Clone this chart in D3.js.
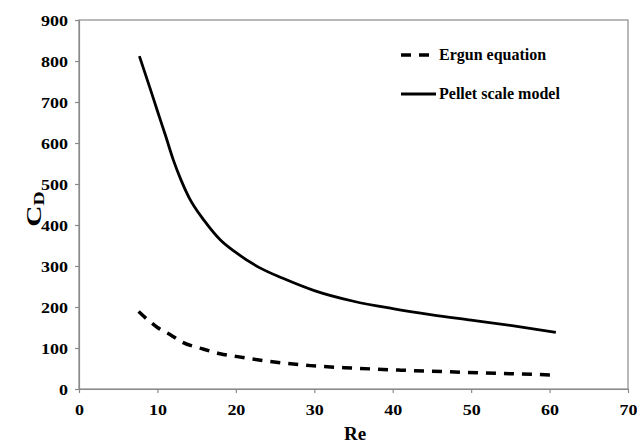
<!DOCTYPE html>
<html><head><meta charset="utf-8">
<script src="https://cdn.jsdelivr.net/npm/d3@7"></script>
<style>body{margin:0;background:#fff}svg{display:block}</style>
</head><body><svg id="c" width="637" height="445"></svg>
<script>
const xTicks = [0,10,20,30,40,50,60,70];
const yTicks = [0,100,200,300,400,500,600,700,800,900];
const seriesNames = ["Ergun equation","Pellet scale model"];
const ergunRe = [7.6,9,10,11.7,13,15.9,18,20.2,24.4,29.5,35,41,47,53.7,60.8];
const ergunCD = [189,165,150,132,116,97,86,79,67,57,51,46,42,38,34];
const pelletRe = [7.7,9,10,11,12,13,14,16,18,20,23,26,30,35,40,45,50,55,60.8];
const pelletCD = [812,737,678,620,560,510,468,410,364,333,296,270,240,214,196,181,168,155,138];

const FONT = "Liberation Serif";
const svg = d3.select("#c");
const L=79,R=628,T=20,B=389;
const x = d3.scaleLinear().domain([0,70]).range([L,R]);
const y = d3.scaleLinear().domain([0,900]).range([B,T]);
const axisCol="#8a8a8a";
const SX = 1.2;

svg.append("rect").attr("x",L).attr("y",T).attr("width",R-L).attr("height",B-T)
  .attr("fill","none").attr("stroke",axisCol).attr("stroke-width",1.2);

const xa = svg.append("g").attr("transform",`translate(0,${B})`)
  .call(d3.axisBottom(x).tickValues(xTicks).tickSize(4).tickSizeOuter(0).tickFormat(d3.format("d")));
const ya = svg.append("g").attr("transform",`translate(${L},0)`)
  .call(d3.axisLeft(y).tickValues(yTicks).tickSize(4).tickSizeOuter(0).tickFormat(d3.format("d")));
[xa,ya].forEach(g=>{
  g.attr("font-family",FONT).attr("font-weight","bold");
  g.selectAll("path").attr("stroke",axisCol).attr("stroke-width",1.2);
  g.selectAll("line").attr("stroke",axisCol).attr("stroke-width",1.2);
  g.selectAll("text").attr("font-size",15).style("font-family",FONT).style("font-weight","bold").attr("fill","#000");
});
xa.selectAll("text").attr("dy",null).attr("y",26).attr("transform",`scale(${SX},1)`);
ya.selectAll("text").attr("x",-11/SX).attr("dy","0.35em").attr("transform",`scale(${SX},1)`);

const line = d3.line().x(d=>x(d[0])).y(d=>y(d[1])).curve(d3.curveMonotoneX);
const ergun = ergunRe.map((r,i)=>[r,ergunCD[i]]);
const pellet = pelletRe.map((r,i)=>[r,pelletCD[i]]);
svg.append("path").attr("d",line(ergun)).attr("fill","none").attr("stroke","#000")
  .attr("stroke-width",3.5).attr("stroke-dasharray","10,8");
svg.append("path").attr("d",line(pellet)).attr("fill","none").attr("stroke","#000")
  .attr("stroke-width",2.8);

const lg = svg.append("g").style("font-family",FONT).style("font-weight","bold");
lg.append("line").attr("x1",401).attr("x2",429).attr("y1",55).attr("y2",55)
  .attr("stroke","#000").attr("stroke-width",3.5).attr("stroke-dasharray","10,8");
lg.append("text").attr("x",439).attr("y",60).attr("font-size",16).text(seriesNames[0]);
lg.append("line").attr("x1",401).attr("x2",436).attr("y1",94).attr("y2",94)
  .attr("stroke","#000").attr("stroke-width",2.8);
lg.append("text").attr("x",439).attr("y",99).attr("font-size",16).text(seriesNames[1]);

svg.append("text").attr("x",355).attr("y",440).attr("text-anchor","middle").attr("font-size",19)
  .style("font-family",FONT).style("font-weight","bold").text("Re");
const yt = svg.append("text").attr("transform",`translate(41,209) rotate(-90) scale(1.4,1)`).attr("text-anchor","middle")
  .style("font-family",FONT).style("font-weight","bold");
yt.append("tspan").attr("font-size",21).text("C");
yt.append("tspan").attr("font-size",14).attr("dy",3).text("D");
</script></body></html>
